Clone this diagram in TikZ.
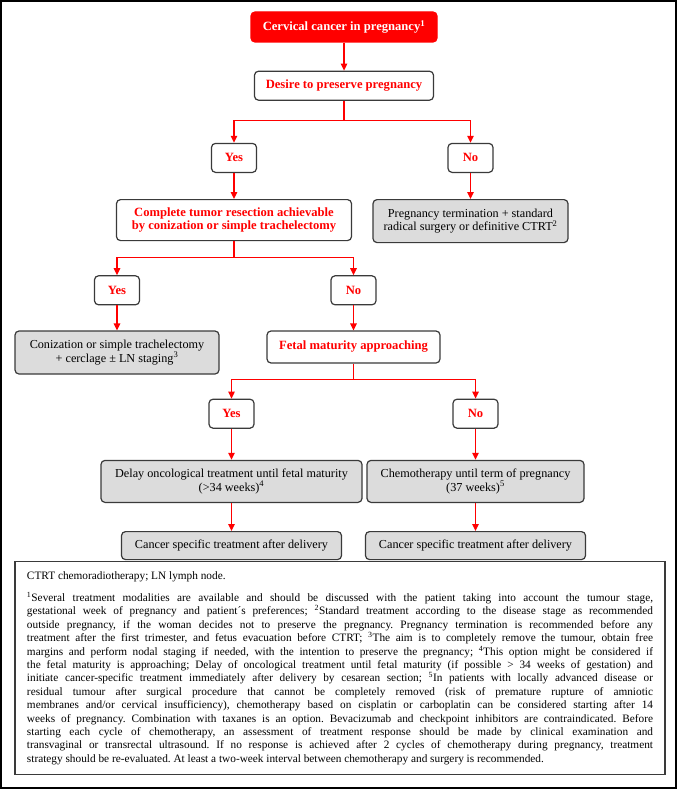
\documentclass[tikz,border=0pt]{standalone}
\usepackage{fontspec}
\setmainfont{Liberation Serif}
\usetikzlibrary{arrows.meta,positioning}
\definecolor{alert}{HTML}{FF0000}
\definecolor{edge}{HTML}{3A3A3A}
\definecolor{shade}{HTML}{DCDCDC}
\setlength{\parindent}{0pt}
\frenchspacing
\tikzset{
  box/.style={draw=edge, rounded corners=4pt, line width=1.2pt, align=center, inner sep=2pt},
  query/.style={box, fill=white, text=alert, font=\fontsize{12.6}{13.5}\selectfont\bfseries},
  answer/.style={query, minimum width=45pt, minimum height=29pt},
  action/.style={box, fill=shade, text=black, font=\fontsize{12.2}{13.5}\selectfont},
  notebox/.style={draw=edge, line width=1.3pt, inner xsep=12pt, inner ysep=6pt, text width=626pt, align=justify, minimum height=213pt, font=\fontsize{11.3}{13.4}\selectfont},
  arr/.style={-{Triangle[length=7pt,width=6.5pt]}, line width=1.3pt, draw=alert}
}

\begin{document}
\begin{tikzpicture}[x=1pt, y=-1pt]
  \useasboundingbox (0,0) rectangle (677,789);
  \draw[line width=2pt] (1,1) rectangle (676,788);

  \node[box, draw=alert, fill=alert, text=white, font=\fontsize{12.6}{13.5}\selectfont\bfseries, minimum width=186pt, minimum height=30pt] (start) at (344,27) {Cervical cancer in pregnancy\textsuperscript{1}};
  \node[query, minimum width=179pt, minimum height=29pt, below=28pt of start] (desire) {Desire to preserve pregnancy};
  \node[answer, below=42pt of desire, xshift=-110pt] (yes1) {Yes};
  \node[answer, below=42pt of desire, xshift=126.5pt] (no1) {No};
  \draw[arr] (start) -- (desire);
  \coordinate[below=20pt of desire] (split1);
  \draw[arr] (desire.south) -- (split1) -| (yes1);
  \draw[arr] (split1) -| (no1);

  \node[query, minimum width=235pt, minimum height=41pt, below=26pt of yes1] (resect) {Complete tumor resection achievable\\by conization or simple trachelectomy};
  \node[action, minimum width=195pt, minimum height=43pt, below=26pt of no1] (terminate) {Pregnancy termination + standard\\radical surgery or definitive CTRT\textsuperscript{2}};
  \draw[arr] (yes1) -- (resect);
  \draw[arr] (no1) -- (terminate);

  \node[answer, below=34pt of resect, xshift=-117pt] (yes2) {Yes};
  \node[answer, below=34pt of resect, xshift=119.5pt] (no2) {No};
  \coordinate[below=16pt of resect] (split2);
  \draw[arr] (resect.south) -- (split2) -| (yes2);
  \draw[arr] (split2) -| (no2);

  \node[action, minimum width=204pt, minimum height=43pt, below=25pt of yes2] (coniz) {Conization or simple trachelectomy\\+ cerclage ± LN staging\textsuperscript{3}};
  \node[query, minimum width=173pt, minimum height=32pt, below=25pt of no2] (fetal) {Fetal maturity approaching};
  \draw[arr] (yes2) -- (coniz);
  \draw[arr] (no2) -- (fetal);

  \node[answer, below=35pt of fetal, xshift=-122pt] (yes3) {Yes};
  \node[answer, below=35pt of fetal, xshift=122pt] (no3) {No};
  \coordinate[below=16pt of fetal] (split3);
  \draw[arr] (fetal.south) -- (split3) -| (yes3);
  \draw[arr] (split3) -| (no3);

  \node[action, minimum width=261pt, minimum height=42pt, below=31pt of yes3] (delay) {Delay oncological treatment until fetal maturity\\(>34 weeks)\textsuperscript{4}};
  \node[action, minimum width=217pt, minimum height=42pt, below=31pt of no3] (chemo) {Chemotherapy until term of pregnancy\\(37 weeks)\textsuperscript{5}};
  \draw[arr] (yes3) -- (delay);
  \draw[arr] (no3) -- (chemo);

  \node[action, minimum width=220pt, minimum height=28pt, below=28pt of delay] (after1) {Cancer specific treatment after delivery};
  \node[action, minimum width=220pt, minimum height=28pt, below=28pt of chemo] (after2) {Cancer specific treatment after delivery};
  \draw[arr] (delay) -- (after1);
  \draw[arr] (chemo) -- (after2);

  % abbreviations and footnotes
  \node[notebox, anchor=north] (notes) at (340,561) {CTRT chemoradiotherapy; LN lymph node.\par\vspace{8.6pt}
  \textsuperscript{1}Several treatment modalities are available and should be discussed with the patient taking into account the tumour stage,\linebreak
  gestational week of pregnancy and patient´s preferences; \textsuperscript{2}Standard treatment according to the disease stage as recommended\linebreak
  outside pregnancy, if the woman decides not to preserve the pregnancy. Pregnancy termination is recommended before any\linebreak
  treatment after the first trimester, and fetus evacuation before CTRT; \textsuperscript{3}The aim is to completely remove the tumour, obtain free\linebreak
  margins and perform nodal staging if needed, with the intention to preserve the pregnancy; \textsuperscript{4}This option might be considered if\linebreak
  the fetal maturity is approaching; Delay of oncological treatment until fetal maturity (if possible > 34 weeks of gestation) and\linebreak
  initiate cancer-specific treatment immediately after delivery by cesarean section; \textsuperscript{5}In patients with locally advanced disease or\linebreak
  residual tumour after surgical procedure that cannot be completely removed (risk of premature rupture of amniotic\linebreak
  membranes and/or cervical insufficiency), chemotherapy based on cisplatin or carboplatin can be considered starting after 14\linebreak
  weeks of pregnancy. Combination with taxanes is an option. Bevacizumab and checkpoint inhibitors are contraindicated. Before\linebreak
  starting each cycle of chemotherapy, an assessment of treatment response should be made by clinical examination and\linebreak
  transvaginal or transrectal ultrasound. If no response is achieved after 2 cycles of chemotherapy during pregnancy, treatment\linebreak
  strategy should be re-evaluated. At least a two-week interval between chemotherapy and surgery is recommended.};
\end{tikzpicture}
\end{document}
